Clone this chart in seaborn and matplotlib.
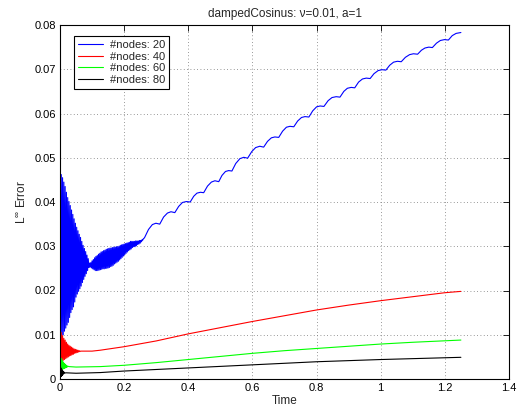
import matplotlib
matplotlib.use("Agg")
import matplotlib.pyplot as plt
import seaborn as sns
import pandas as pd

# ---------------- data ----------------
labels = ["#nodes: 20", "#nodes: 40", "#nodes: 60", "#nodes: 80"]
colors = ["#0000ff", "#ff0000", "#00ff00", "#000000"]

# --- #nodes 20: fast oscillation peaks / troughs, then the scalloped rise ---
blue_hi_t = [0.000, 0.004, 0.008, 0.012, 0.016, 0.020, 0.024, 0.028, 0.032, 0.036, 0.040, 0.044,
             0.048, 0.052, 0.056, 0.060, 0.064, 0.068, 0.072, 0.076, 0.080, 0.084, 0.088, 0.092,
             0.096, 0.100, 0.104, 0.108, 0.112, 0.116, 0.120, 0.124, 0.128, 0.132, 0.136, 0.140,
             0.144, 0.148, 0.152, 0.156, 0.160, 0.164, 0.168, 0.172, 0.176, 0.180, 0.184, 0.188,
             0.192, 0.196, 0.200, 0.204, 0.208, 0.212, 0.216, 0.220, 0.224, 0.228, 0.232, 0.236,
             0.240, 0.244, 0.248, 0.252, 0.256, 0.260, 0.264]
blue_hi_v = [0.0470, 0.0462, 0.0455, 0.0445, 0.0435, 0.0422, 0.0410, 0.0401, 0.0392, 0.0382, 0.0372, 0.0362,
             0.0352, 0.0343, 0.0335, 0.0327, 0.0320, 0.0311, 0.0302, 0.0295, 0.0288, 0.0280, 0.0272, 0.0262,
             0.0263, 0.0267, 0.0270, 0.0274, 0.0277, 0.0279, 0.0282, 0.0284, 0.0287, 0.0288, 0.0290, 0.0291,
             0.0293, 0.0294, 0.0295, 0.0296, 0.0296, 0.0297, 0.0298, 0.0298, 0.0299, 0.0299, 0.0300, 0.0302,
             0.0303, 0.0304, 0.0305, 0.0306, 0.0307, 0.0308, 0.0309, 0.0311, 0.0311, 0.0311, 0.0311, 0.0312,
             0.0312, 0.0312, 0.0313, 0.0313, 0.0315, 0.0317, 0.0320]
blue_lo_t = [0.002, 0.006, 0.010, 0.014, 0.018, 0.022, 0.026, 0.030, 0.034, 0.038, 0.042, 0.046,
             0.050, 0.054, 0.058, 0.062, 0.066, 0.070, 0.074, 0.078, 0.082, 0.086, 0.090,
             0.094, 0.098, 0.102, 0.106, 0.110, 0.114, 0.118, 0.122, 0.126, 0.130, 0.134, 0.138,
             0.142, 0.146, 0.150, 0.154, 0.158, 0.162, 0.166, 0.170, 0.174, 0.178, 0.182, 0.186,
             0.190, 0.194, 0.198, 0.202, 0.206, 0.210, 0.214, 0.218, 0.222, 0.226, 0.230, 0.234,
             0.238, 0.242, 0.246, 0.250, 0.254, 0.258, 0.262]
blue_lo_v = [0.0088, 0.0095, 0.0100, 0.0108, 0.0115, 0.0122, 0.0128, 0.0139, 0.0150, 0.0157, 0.0163, 0.0174,
             0.0185, 0.0192, 0.0198, 0.0204, 0.0210, 0.0218, 0.0225, 0.0232, 0.0238, 0.0245, 0.0252,
             0.0253, 0.0251, 0.0249, 0.0247, 0.0245, 0.0245, 0.0245, 0.0246, 0.0247, 0.0248, 0.0249, 0.0249,
             0.0250, 0.0250, 0.0251, 0.0252, 0.0254, 0.0255, 0.0257, 0.0260, 0.0262, 0.0264, 0.0266, 0.0269,
             0.0272, 0.0275, 0.0278, 0.0281, 0.0284, 0.0287, 0.0290, 0.0292, 0.0294, 0.0297, 0.0299, 0.0299,
             0.0301, 0.0304, 0.0305, 0.0307, 0.0310, 0.0314, 0.0318]
blue_rise_t = [0.276, 0.288, 0.299, 0.311, 0.323, 0.335, 0.346, 0.358, 0.370, 0.382, 0.394,
               0.406, 0.417, 0.427, 0.438, 0.448, 0.460, 0.472, 0.483, 0.495, 0.505, 0.516, 0.526,
               0.536, 0.548, 0.561, 0.573, 0.585, 0.598, 0.610, 0.623, 0.635, 0.647, 0.659, 0.670,
               0.682, 0.694, 0.706, 0.717, 0.729, 0.741, 0.753, 0.764, 0.776, 0.788, 0.800, 0.811,
               0.823, 0.836, 0.848, 0.861, 0.873, 0.885, 0.896, 0.908, 0.919, 0.931, 0.943, 0.955,
               0.967, 0.979, 0.992, 1.004, 1.016, 1.028, 1.040, 1.052, 1.064, 1.077, 1.090, 1.102,
               1.115, 1.127, 1.138, 1.150, 1.161, 1.174, 1.186, 1.199, 1.211, 1.223, 1.235, 1.250]
blue_rise_v = [0.0338, 0.0349, 0.0352, 0.0350, 0.0366, 0.0375, 0.0378, 0.0376, 0.0390, 0.0399, 0.0401,
               0.0400, 0.0413, 0.0420, 0.0422, 0.0421, 0.0436, 0.0445, 0.0448, 0.0446, 0.0460, 0.0469, 0.0471,
               0.0470, 0.0487, 0.0498, 0.0501, 0.0499, 0.0514, 0.0523, 0.0526, 0.0524, 0.0537, 0.0545, 0.0547,
               0.0546, 0.0560, 0.0569, 0.0571, 0.0570, 0.0583, 0.0591, 0.0593, 0.0592, 0.0606, 0.0615, 0.0617,
               0.0616, 0.0629, 0.0636, 0.0638, 0.0637, 0.0650, 0.0657, 0.0659, 0.0658, 0.0671, 0.0678, 0.0680,
               0.0679, 0.0690, 0.0697, 0.0699, 0.0698, 0.0709, 0.0716, 0.0718, 0.0717, 0.0727, 0.0733, 0.0735,
               0.0734, 0.0743, 0.0748, 0.0750, 0.0749, 0.0759, 0.0765, 0.0767, 0.0766, 0.0776, 0.0781, 0.0783]

# --- #nodes 40 ---
red_hi_t = [0.000, 0.004, 0.008, 0.012, 0.016, 0.020, 0.024, 0.028, 0.032, 0.036, 0.040, 0.044,
            0.048, 0.052, 0.056, 0.060, 0.064]
red_hi_v = [0.0114, 0.0105, 0.0098, 0.0092, 0.0088, 0.0083, 0.0079, 0.0076, 0.0074, 0.0072, 0.0070, 0.0068,
            0.0067, 0.0066, 0.0065, 0.0064, 0.0063]
red_lo_t = [0.002, 0.006, 0.010, 0.014, 0.018, 0.022, 0.026, 0.030, 0.034, 0.038, 0.042, 0.046,
            0.050, 0.054, 0.058, 0.062]
red_lo_v = [0.0038, 0.0040, 0.0042, 0.0044, 0.0046, 0.0048, 0.0050, 0.0052, 0.0053, 0.0055, 0.0056, 0.0058,
            0.0059, 0.0060, 0.0061, 0.0062]
red_rise_t = [0.100, 0.125, 0.200, 0.300, 0.400, 0.500, 0.600, 0.700, 0.800, 0.900, 1.000, 1.100,
              1.200, 1.250]
red_rise_v = [0.0063, 0.0065, 0.0073, 0.0086, 0.0102, 0.0116, 0.0130, 0.0143, 0.0156, 0.0167, 0.0177, 0.0186,
              0.0195, 0.0198]

# --- #nodes 60 ---
green_hi_t = [0.000, 0.003, 0.006, 0.009, 0.012, 0.015, 0.018, 0.021, 0.024]
green_hi_v = [0.0052, 0.0047, 0.0043, 0.0039, 0.0036, 0.0034, 0.0032, 0.0030, 0.0029]
green_lo_t = [0.0015, 0.0045, 0.0075, 0.0105, 0.0135, 0.0165, 0.0195, 0.0225]
green_lo_v = [0.0020, 0.0021, 0.0022, 0.0023, 0.0024, 0.0025, 0.0026, 0.0027]
green_rise_t = [0.028, 0.050, 0.125, 0.200, 0.300, 0.400, 0.500, 0.600, 0.700, 0.800, 0.900, 1.000,
                1.100, 1.250]
green_rise_v = [0.0028, 0.0027, 0.0028, 0.0031, 0.0037, 0.0044, 0.0051, 0.0058, 0.0064, 0.0069, 0.0074, 0.0079,
                0.0083, 0.0088]

# --- #nodes 80 ---
black_hi_t = [0.000, 0.003, 0.006, 0.009, 0.012]
black_hi_v = [0.0030, 0.0025, 0.0021, 0.0018, 0.0016]
black_lo_t = [0.0015, 0.0045, 0.0075, 0.0105, 0.0135]
black_lo_v = [0.0004, 0.0006, 0.0008, 0.0011, 0.0013]
black_rise_t = [0.018, 0.050, 0.125, 0.200, 0.400, 0.600, 0.800, 1.000, 1.250]
black_rise_v = [0.0014, 0.0013, 0.00145, 0.0018, 0.0025, 0.0032, 0.0039, 0.0044, 0.0049]

x_ticks = [0, 0.2, 0.4, 0.6, 0.8, 1.0, 1.2, 1.4]
x_tick_labels = ["0", "0.2", "0.4", "0.6", "0.8", "1", "1.2", "1.4"]
y_ticks = [0, 0.01, 0.02, 0.03, 0.04, 0.05, 0.06, 0.07, 0.08]
y_tick_labels = ["0", "0.01", "0.02", "0.03", "0.04", "0.05", "0.06", "0.07", "0.08"]

title = "dampedCosinus: \u03bd=0.01, a=1"
x_label = "Time"
y_label = "L$^{\\infty}$ Error"


def merge(hi_t, hi_v, lo_t, lo_v, rise_t, rise_v):
    """Order the read-off peaks, troughs and the smooth part by time."""
    pts = sorted(zip(hi_t + lo_t, hi_v + lo_v)) + list(zip(rise_t, rise_v))
    return pd.DataFrame(pts, columns=["Time", "Error"])


frames = [
    merge(blue_hi_t, blue_hi_v, blue_lo_t, blue_lo_v, blue_rise_t, blue_rise_v),
    merge(red_hi_t, red_hi_v, red_lo_t, red_lo_v, red_rise_t, red_rise_v),
    merge(green_hi_t, green_hi_v, green_lo_t, green_lo_v, green_rise_t, green_rise_v),
    merge(black_hi_t, black_hi_v, black_lo_t, black_lo_v, black_rise_t, black_rise_v),
]

# ---------------- plot ----------------
sns.set_theme(style="white")
plt.rcParams["font.family"] = ["Liberation Sans", "DejaVu Sans"]
plt.rcParams["mathtext.fontset"] = "custom"
plt.rcParams["mathtext.rm"] = "Liberation Sans"

fig = plt.figure(figsize=(5.21, 4.07), dpi=100)
ax = fig.add_axes([60 / 521, 28 / 407, 449 / 521, 354 / 407])

for df, lab, col in zip(frames, labels, colors):
    sns.lineplot(data=df, x="Time", y="Error", ax=ax, color=col, linewidth=0.8,
                 estimator=None, sort=False, label=lab)

ax.set_xlim(0, 1.4)
ax.set_ylim(0, 0.08)
ax.set_xticks(x_ticks)
ax.set_xticklabels(x_tick_labels)
ax.set_yticks(y_ticks)
ax.set_yticklabels(y_tick_labels)
ax.tick_params(direction="in", top=True, right=True, length=4, width=0.6,
               labelsize=8, colors="black", pad=3)
ax.grid(True, linestyle=(0, (1, 3)), color="#777777", linewidth=0.6)
for s in ax.spines.values():
    s.set_color("black")
    s.set_linewidth(0.8)

ax.set_xlabel(x_label, fontsize=8.5, labelpad=1)
ax.set_ylabel(y_label, fontsize=8.5, labelpad=4)
ax.set_title(title, fontsize=8.5, pad=6)

leg = ax.legend(loc="upper left", bbox_to_anchor=(0.031, 0.969), borderaxespad=0,
                fontsize=8, handlelength=2.3, labelspacing=0.15, borderpad=0.35,
                handletextpad=0.6, fancybox=False, framealpha=1, edgecolor="black")
leg.get_frame().set_linewidth(0.8)

fig.savefig("out.png", dpi=100)
